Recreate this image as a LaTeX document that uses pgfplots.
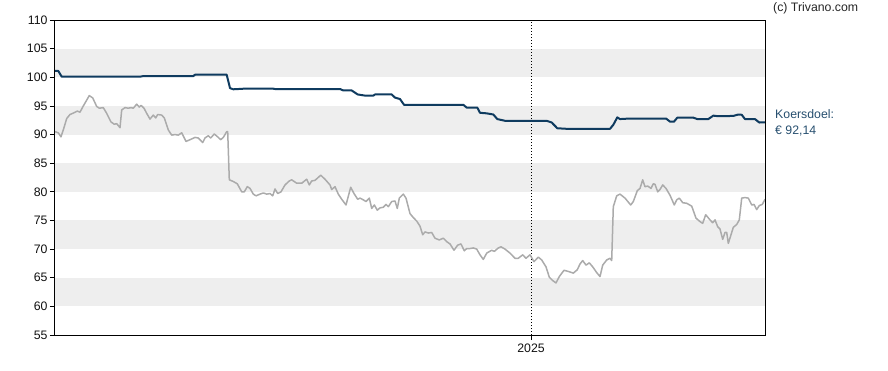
\documentclass[border=0pt]{standalone}
\usepackage{fontspec}
\setmainfont{Liberation Sans}
\usepackage{pgfplots}
\pgfplotsset{compat=1.18}
\definecolor{koers}{HTML}{0F3B5F}
\definecolor{prijs}{HTML}{ABABAB}
\definecolor{band}{HTML}{EEEEEE}
\definecolor{lbl}{HTML}{111111}
\begin{document}
\begin{tikzpicture}
\begin{axis}[
  scale only axis, width=710pt, height=315pt,
  xmin=55, xmax=765, ymin=55, ymax=110,
  ytick={55,60,...,110},
  xtick={531}, xticklabels={2025},
  tick align=outside, major tick length=5pt,
  ytick pos=left, xtick pos=bottom,
  tick style={black, line width=0.8pt},
  axis line style={black, line width=1pt},
  ticklabel style={font=\fontsize{12.3}{14}\selectfont, text=lbl},
  /pgf/number format/assume math mode=true,
  yticklabel style={xshift=1pt},
  axis on top,
  clip=true,
]
\fill[band] (axis cs:55,60) rectangle (axis cs:765,65);
\fill[band] (axis cs:55,70) rectangle (axis cs:765,75);
\fill[band] (axis cs:55,80) rectangle (axis cs:765,85);
\fill[band] (axis cs:55,90) rectangle (axis cs:765,95);
\fill[band] (axis cs:55,100) rectangle (axis cs:765,105);
\draw[black, line width=0.8pt, dash pattern=on 1pt off 2pt] (axis cs:531,55) -- (axis cs:531,110);
% koers (price)
\addplot[prijs, line width=1.5pt, line join=round] coordinates {
(55,90.5)(58.3,90.3)(61,89.6)(63.3,90.8)(66.7,92.8)(70,93.5)(74,93.8)(77.3,94.1)(80,93.9)(82.7,94.8)
(86,95.8)(89.3,96.8)(92.7,96.4)(96.7,94.9)(99.3,94.6)(103.3,94.7)(106.7,93.7)(111,92.2)(114.3,91.8)(116.7,91.9)
(120,91.2)(121.7,94.3)(125,94.7)(128.3,94.6)(131,94.7)(133.3,94.6)(136.7,95.3)(139.3,94.8)(141,95.1)(144,94.6)
(146.7,93.7)(150,92.7)(153.3,93.4)(155.7,92.9)(157.7,93.5)(161.7,93.4)(164.3,92.9)(168.3,90.8)(171.7,89.9)(175,90.0)
(178.3,89.9)(181.7,90.3)(186,88.8)(190,89.1)(195,89.5)(198.3,89.4)(202.7,88.6)(205,89.4)(208.3,89.8)(210.7,89.4)
(214.3,90.1)(218.3,89.5)(220.7,89.1)(223.3,89.5)(226.7,90.5)(227.7,90.5)(229.3,82.1)(233.3,81.8)(237.3,81.4)(241.7,80.0)
(244.3,80.0)(247.3,80.9)(250,80.6)(253.3,79.6)(256,79.3)(260,79.6)(263.3,79.8)(266.7,79.6)(270,79.7)(272.7,79.3)
(275,80.5)(277.7,79.7)(281,80.0)(285,81.2)(289.3,81.9)(291.7,82.1)(296.7,81.5)(301.7,81.5)(306.7,82.2)(309.3,81.2)
(311.7,81.9)(315,82.0)(320.7,82.9)(325,82.2)(330,81.2)(331.7,80.4)(335,80.9)(338.3,79.6)(341.7,78.7)(346,77.7)
(350.7,80.8)(354,79.7)(357.7,78.7)(360,78.9)(363.3,78.6)(366,78.3)(369.3,78.9)(371.7,77.1)(374.3,77.7)(377.3,76.8)
(380,77.2)(383.3,77.3)(386,77.8)(388.3,77.4)(391.7,78.3)(395,78.4)(397.3,77.1)(399.3,78.9)(403.3,79.6)(406,78.9)
(410,76.2)(413.3,75.5)(416.7,74.9)(420,74.0)(422.7,72.5)(425,73.0)(428.3,72.8)(431.7,72.9)(435,71.9)(439.3,71.6)
(443.3,71.9)(446.7,71.3)(450,70.9)(454,69.8)(457.7,70.7)(461,70.9)(464.3,69.7)(466.7,70.1)(470,70.1)(473.3,70.2)
(476.7,70.0)(480,69.0)(483.3,68.2)(486.7,69.3)(491.7,69.8)(494.3,69.6)(498.3,70.2)(501,70.4)(505,70.0)(510,69.3)
(515,68.4)(518.3,68.4)(522.7,69.0)(526,68.4)(530,69.0)(534,67.8)(538.3,68.6)(541.7,68.1)(546,66.9)(549.3,65.1)
(552.7,64.5)(556,64.1)(559.3,65.2)(564,66.3)(568.3,66.1)(573.3,65.8)(577.3,66.4)(580,67.4)(582.7,68.0)(586,67.2)
(589.3,67.6)(592.7,66.9)(596.7,65.9)(600,65.2)(602.7,67.2)(606.7,68.1)(610,68.4)(611.7,68.0)(613.3,77.4)(616.7,79.3)
(620,79.6)(625,78.9)(630.7,77.7)(633.3,78.3)(637.3,80.2)(640,80.6)(642.7,82.1)(645,80.9)(647.7,81.0)(651,80.6)
(653.3,81.4)(655,81.3)(657.7,80.0)(660,80.4)(662.7,81.2)(666,80.6)(670,79.4)(674.3,77.7)(676.7,78.6)(679.3,78.9)
(682.7,78.1)(686.7,78.0)(691.7,77.5)(696,75.4)(700,74.8)(702.7,74.5)(705.7,76.0)(710,75.1)(712.7,74.6)(715,75.1)
(717.7,73.9)(720,73.5)(722.7,71.7)(725,72.9)(726.7,72.9)(728.3,71.0)(731,72.5)(733.3,73.8)(736.7,74.3)(739.3,75.1)
(741.7,78.9)(745,79.0)(748.3,78.9)(751.7,77.7)(754,77.8)(756.7,76.9)(759.3,77.6)(762.3,77.8)(765,78.7)
};
% koersdoel (target)
\addplot[koers, line width=2pt, line join=round] coordinates {
(55,101.1)(58.3,101.1)(61.7,100.1)(140,100.1)(143,100.2)(193.3,100.2)(195,100.45)(226.7,100.45)(230,98.1)(233.3,97.9)
(243.3,98.0)(273.3,98.0)(275,97.95)(340,97.95)(343.3,97.7)(351.7,97.7)(357.7,97.0)(365,96.8)(373.3,96.8)(375,97.0)
(391.7,97.0)(395,96.45)(400,96.2)(404,95.2)(463.3,95.2)(466.7,94.7)(477.3,94.7)(480,93.8)(486.7,93.7)(493.3,93.5)
(497.3,92.7)(505,92.4)(546.7,92.4)(551.7,92.1)(557.3,91.1)(566.7,91.0)(610,91.0)(613.3,91.7)(617.3,93.0)(620,92.7)
(630,92.8)(666,92.8)(670,92.25)(674,92.25)(677.3,92.95)(693.3,92.95)(697.3,92.7)(708.3,92.7)(713.3,93.3)(718.3,93.2)
(733.3,93.25)(738.3,93.5)(741.7,93.45)(745,92.7)(755,92.7)(759.3,92.1)(765,92.14)
};
\end{axis}
\node[anchor=west, text=black!85, font=\fontsize{12.3}{14}\selectfont, inner sep=0pt] at ([xshift=8pt,yshift=12pt]current axis.north east) {(c) Trivano.com};
\node[anchor=west, text=koers!90, font=\fontsize{12.3}{14}\selectfont, inner sep=0pt] at ([xshift=10pt,yshift=-94pt]current axis.north east) {Koersdoel:};
\node[anchor=west, text=koers!90, font=\fontsize{12.3}{14}\selectfont, inner sep=0pt] at ([xshift=10pt,yshift=-111pt]current axis.north east) {€ 92,14};
\path (current axis.south west) ++(-55pt,-35pt) rectangle ++(888pt,370pt);
\end{tikzpicture}
\end{document}
